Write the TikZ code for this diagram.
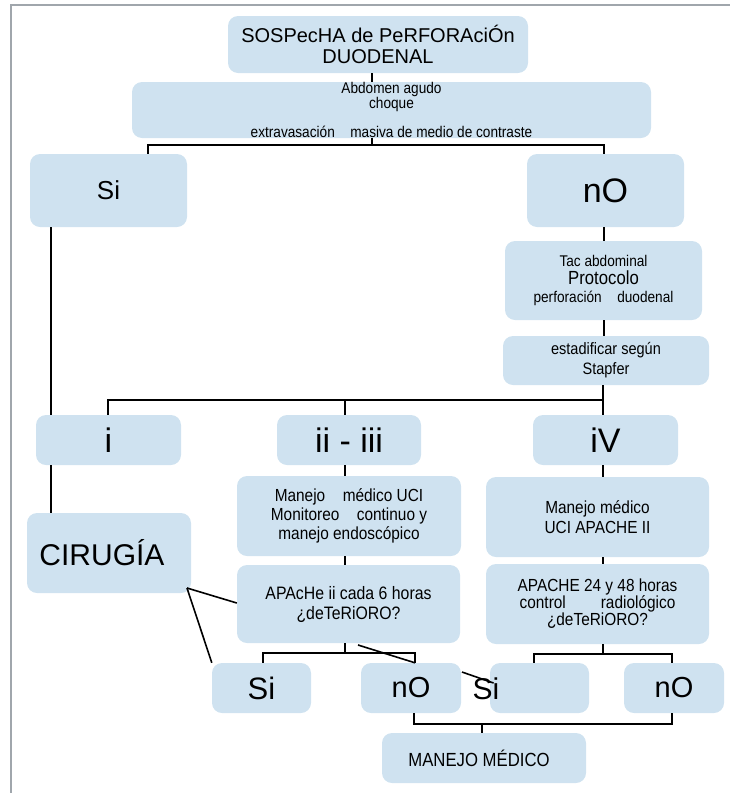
\documentclass[tikz,border=0pt]{standalone}
\usepackage{fontspec}
\setmainfont{Liberation Sans}
\newfontfamily\estrecha[FakeStretch=0.88]{Liberation Sans}
\definecolor{celeste}{RGB}{207,226,240}
\definecolor{marco}{RGB}{160,166,172}
\tikzset{
  caja/.style={fill=celeste, rounded corners=10pt, inner sep=0pt, align=center},
  linea/.style={line width=1.6pt, black},
  grande/.style={font=\fontsize{34}{36}\selectfont},
  chica/.style={font=\estrecha\fontsize{15.5}{16}\selectfont}
}
\begin{document}
\begin{tikzpicture}[x=1pt, y=-1pt]
  \useasboundingbox (0,0) rectangle (730,793);
  % marco
  \draw[marco, line width=2pt] (10.5,793) -- (10.5,5) -- (730,5);

  % primera fila
  \node[caja, minimum width=300pt, minimum height=57pt, font=\fontsize{20}{21}\selectfont] (sosp) at (378,44.5) {SOSPecHA de PeRFORAciÓn\\DUODENAL};
  \node[caja, minimum width=519pt, minimum height=56pt, chica, font=\estrecha\fontsize{15.5}{12}\selectfont] (abd) at (391.5,110) {Abdomen agudo\\choque\\[13pt]extravasación\quad masiva de medio de contraste};
  \node[caja, minimum width=157pt, minimum height=73pt, font=\fontsize{26}{28}\selectfont] (si) at (108.5,190.5) {Si};
  \node[caja, minimum width=157pt, minimum height=73pt, grande] (no) at (605.5,190.5) {nO};
  \node[caja, minimum width=197pt, minimum height=79pt, chica, font=\estrecha\fontsize{15.5}{18}\selectfont] (tac) at (603.5,280.5) {Tac abdominal\\{\fontsize{19}{20}\selectfont Protocolo}\\perforación\quad duodenal};
  \node[caja, minimum width=206pt, minimum height=49pt, font=\estrecha\fontsize{16.5}{20}\selectfont] (est) at (606,360.5) {estadificar según\\Stapfer};

  % estadios
  \node[caja, minimum width=145pt, minimum height=50pt, grande] (e1) at (108.5,440) {i};
  \node[caja, minimum width=144pt, minimum height=50pt, grande] (e23) at (349,440) {ii - iii};
  \node[caja, minimum width=145pt, minimum height=50pt, grande] (e4) at (605.5,440) {iV};

  \node[caja, minimum width=164pt, minimum height=80pt, font=\fontsize{30}{32}\selectfont] (cir) at (109,553) {CIRUGÍA\hspace*{14pt}};
  \node[caja, minimum width=224pt, minimum height=80pt, font=\estrecha\fontsize{17.5}{19}\selectfont] (mii) at (349,516) {Manejo\quad médico UCI\\Monitoreo\quad continuo y\\manejo endoscópico};
  \node[caja, minimum width=223pt, minimum height=80pt, font=\estrecha\fontsize{17.5}{20}\selectfont] (miv) at (597.5,517) {Manejo médico\\UCI APACHE II};
  \node[caja, minimum width=223pt, minimum height=78pt, font=\estrecha\fontsize{18}{20}\selectfont] (apii) at (348.5,604) {APAcHe ii cada 6 horas\\¿deTeRiORO?};
  \node[caja, minimum width=223pt, minimum height=80pt, font=\estrecha\fontsize{17.5}{17}\selectfont] (apiv) at (597.5,604) {APACHE 24 y 48 horas\\control\qquad radiológico\\¿deTeRiORO?};

  % respuestas
  \node[caja, minimum width=99pt, minimum height=50pt, font=\fontsize{31}{32}\selectfont] (si1) at (261.5,688) {Si};
  \node[caja, minimum width=100pt, minimum height=50pt, font=\fontsize{29}{30}\selectfont] (no1) at (411,688) {nO};
  \node[caja, minimum width=99pt, minimum height=50pt] (si2) at (539.5,688) {};
  \node[font=\fontsize{30}{30}\selectfont, inner sep=0pt] (si2t) at (486,689) {Si};
  \node[caja, minimum width=100pt, minimum height=50pt, font=\fontsize{29}{30}\selectfont] (no2) at (674,688) {nO};
  \node[caja, minimum width=204pt, minimum height=50pt, font=\estrecha\fontsize{19}{20}\selectfont] (mm) at (484,758) {MANEJO MÉDICO\hspace*{10pt}};

  % puntos de union
  \coordinate (h1l) at (148,145);
  \coordinate (h1c) at (372,145);
  \coordinate (h1r) at (604,145);
  \coordinate (sv) at (51,0);
  \coordinate (h2l) at (108,400);
  \coordinate (h2c) at (345,400);
  \coordinate (h2r) at (603,400);
  \coordinate (b1l) at (263,653);
  \coordinate (b1c) at (345,653);
  \coordinate (b1r) at (415,653);
  \coordinate (b2l) at (534,654);
  \coordinate (b2c) at (603,654);
  \coordinate (b2r) at (672,654);
  \coordinate (b3l) at (414,724);
  \coordinate (b3c) at (482,724);
  \coordinate (b3r) at (672,724);
  \coordinate (cx) at (187,588);
  \coordinate (d1) at (358,645);
  \coordinate (d2) at (462,672);

  \draw[linea] (sosp.south -| h1c) -- (abd.north -| h1c);
  \draw[linea] (abd.south -| h1c) -- (h1c);
  \draw[linea] (si.north -| h1l) |- (h1r) -- (no.north -| h1r);
  \draw[linea] (si.south -| sv) -- (e1.north -| sv);
  \draw[linea] (e1.south -| sv) -- (cir.north -| sv);
  \draw[linea] (no.south -| h1r) -- (tac.north -| h1r);
  \draw[linea] (tac.south -| h1r) -- (est.north -| h1r);
  \draw[linea] (est.south -| h2r) -- (e4.north -| h2r);
  \draw[linea] (e1.north -| h2l) |- (h2r);
  \draw[linea] (h2c) -- (e23.north -| h2c);
  \draw[linea] (e23.south -| h2c) -- (mii.north -| h2c);
  \draw[linea] (mii.south -| h2c) -- (apii.north -| h2c);
  \draw[linea] (e4.south -| h2r) -- (miv.north -| h2r);
  \draw[linea] (miv.south -| h2r) -- (apiv.north -| h2r);
  \draw[linea] (apii.south -| b1c) -- (b1c);
  \draw[linea] (si1.north -| b1l) |- (b1r) -- (no1.north -| b1r);
  \draw[linea] (apiv.south -| b2c) -- (b2c);
  \draw[linea] (si2.north -| b2l) |- (b2r) -- (no2.north -| b2r);
  \draw[linea] (no1.south -| b3l) |- (b3r) -- (no2.south -| b3r);
  \draw[linea] (b3c) -- (mm.north -| b3c);
  % lineas sueltas
  \draw[linea] (cx) -- (apii.west |- 0,603);
  \draw[linea] (cx) -- (si1.north west);
  \draw[linea] (d1) -- (no1.north -| b1r);
  \draw[linea] (d2) -- ([xshift=-6pt,yshift=6pt]si2t.east);
\end{tikzpicture}
\end{document}
